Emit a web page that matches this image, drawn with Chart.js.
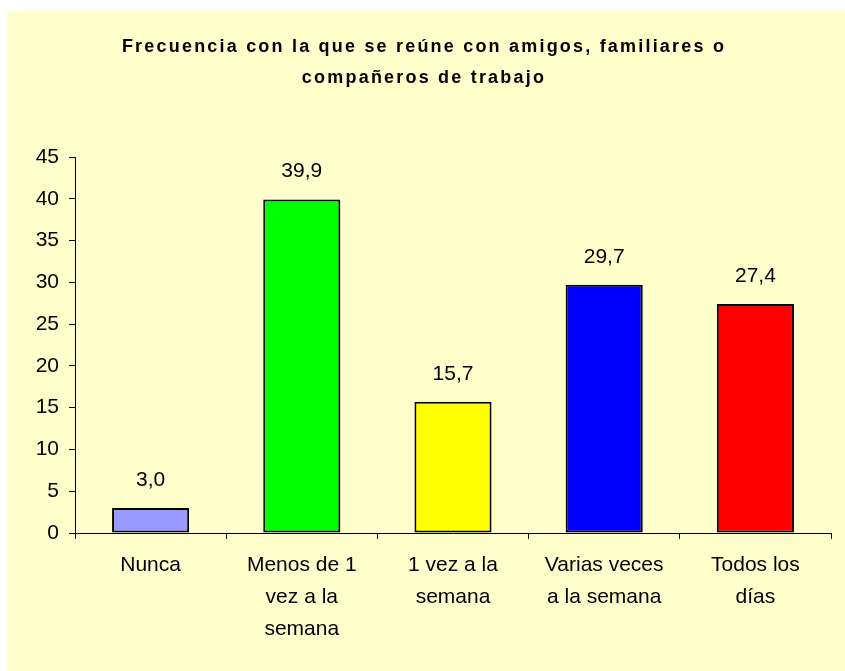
<!DOCTYPE html>
<html>
<head>
<meta charset="utf-8">
<script src="https://cdn.jsdelivr.net/npm/chart.js@4"></script>
<style>
  body { margin: 0; background: #fff; }
  #wrap { position: absolute; left: 7px; top: 11px; width: 838px; height: 660px; background: #FFFFCC; }
</style>
</head>
<body>
<div id="wrap"><canvas id="barChart" width="838" height="660"></canvas></div>
<script>
'use strict';

const categories = [
  'Nunca',
  ['Menos de 1', 'vez a la', 'semana'],
  ['1 vez a la', 'semana'],
  ['Varias veces', 'a la semana'],
  ['Todos los', 'días']
];
const values = [3.0, 39.9, 15.7, 29.7, 27.4];
const barColors = ['#9999FF', '#00FF00', '#FFFF00', '#0000FF', '#FF0000'];
const titleLines = ['Frecuencia con la que se reúne con amigos, familiares o', 'compañeros de trabajo'];

const FONT = '"Liberation Sans", Arial, sans-serif';

// titulo a mano (con letras espaciadas como en Excel)
const spacedTitle = {
  id: 'spacedTitle',
  afterDraw(chart) {
    const ctx = chart.ctx;
    ctx.save();
    ctx.letterSpacing = '2.2px';
    ctx.font = 'bold 18px ' + FONT;
    ctx.fillStyle = '#000';
    ctx.textAlign = 'center';
    ctx.textBaseline = 'middle';
    titleLines.forEach(function(line, i) {
      ctx.fillText(line, chart.width / 2 - 2, 36 + i * 31);
    });
    ctx.restore();
  }
};

// etiquetas de valor encima de las barras
const valueLabels = {
  id: 'valueLabels',
  afterDatasetsDraw(chart) {
    const ctx = chart.ctx;
    const meta = chart.getDatasetMeta(0);
    ctx.save();
    ctx.font = '21px ' + FONT;
    ctx.fillStyle = '#000';
    ctx.textAlign = 'center';
    ctx.textBaseline = 'middle';
    meta.data.forEach(function(bar, i) {
      ctx.fillText(values[i].toFixed(1).replace('.', ','), bar.x, bar.y - 28);
    });
    ctx.restore();
  }
};

let context = document.querySelector('#barChart').getContext('2d');
new Chart(context, {
  type: 'bar',
  data: {
    labels: categories,
    datasets: [{
      data: values,
      backgroundColor: barColors,
      borderColor: '#000',
      borderWidth: 2,
      borderSkipped: false,
      categoryPercentage: 1,
      barPercentage: 0.51
    }]
  },
  options: {
    responsive: false,
    animation: false,
    layout: { padding: { top: 146, right: 14, left: 0, bottom: 0 } },
    plugins: {
      legend: { display: false },
      tooltip: { enabled: false },
      title: { display: false }
    },
    scales: {
      x: {
        grid: { display: true, drawOnChartArea: false, offset: true, color: '#000', tickLength: 6 },
        border: { color: '#000', width: 1 },
        ticks: {
          color: '#000',
          padding: 10,
          maxRotation: 0,
          autoSkip: false,
          font: { family: FONT, size: 21, lineHeight: '32px' }
        },
        afterFit: function(scale) { scale.height = 138; }
      },
      y: {
        min: 0,
        max: 45,
        grid: { display: true, drawOnChartArea: false, color: '#000', tickLength: 6 },
        border: { color: '#000', width: 1 },
        ticks: {
          stepSize: 5,
          color: '#000',
          padding: 10,
          font: { family: FONT, size: 21 }
        },
        afterFit: function(scale) { scale.width = 68; }
      }
    }
  },
  plugins: [spacedTitle, valueLabels]
});
</script>
</body>
</html>
